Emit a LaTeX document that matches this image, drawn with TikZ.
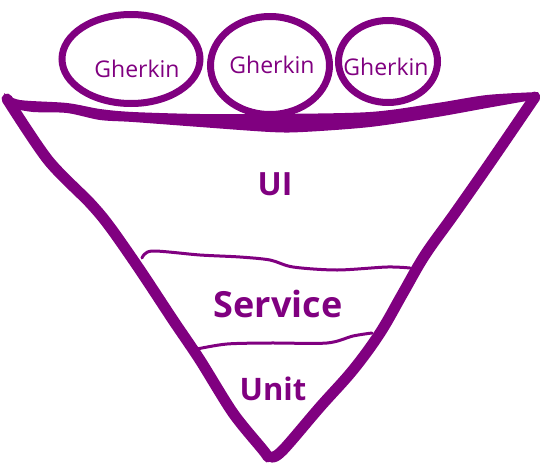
\documentclass[tikz,border=0pt]{standalone}
\usepackage{fontspec}
\setmainfont{Open Sans}
\usetikzlibrary{shapes.geometric}
\definecolor{gp}{HTML}{800080}
\tikzset{
  ell/.style={draw=gp, line width=7pt, ellipse, inner sep=0pt},
  gtext/.style={text=gp, font=\fontsize{23}{25}\selectfont, anchor=base, inner sep=0pt},
  layertext/.style={text=gp, anchor=base, inner sep=0pt},
  side/.style={draw=gp, line width=11pt, line cap=round, line join=round},
  divider/.style={draw=gp, line width=3pt, line cap=round}
}
\begin{document}
\begin{tikzpicture}[x=1pt,y=-1pt]
\useasboundingbox (0,0) rectangle (540,466);
% ellipses
\node[ell, minimum width=138pt, minimum height=89pt] (e1) at (131,59) {};
\node[ell, minimum width=119pt, minimum height=98pt] (e2) at (270,65.5) {};
\node[ell, minimum width=99pt, minimum height=82pt] (e3) at (388,61.5) {};
\node[gtext] (t1) at (137,77) {Gherkin};
\node[gtext] (t2) at (272,73) {Gherkin};
\node[gtext] (t3) at (386,75) {Gherkin};
% top edge
\fill[gp] plot[smooth, tension=0.5] coordinates {(4,93) (20,100) (67,103) (100,109) (133,112) (200,114) (270,114) (370,112) (437,103) (487,95) (538,92)}
  -- plot[smooth, tension=0.5] coordinates {(538,99) (487,108) (437,117) (370,127) (303,132) (270,132) (200,127) (133,122) (100,120) (67,113) (33,112) (10,108)} -- cycle;
% sides
\draw[side] plot[smooth, tension=0.5] coordinates {(7,99) (48,160) (90,203) (110,227) (140,270) (173,320) (200,360) (233,413) (263,450) (268,457)};
\draw[side] plot[smooth, tension=0.6] coordinates {(535,97) (492,160) (455,213) (425,255) (403,293) (380,333) (353,370) (320,407) (283,450) (272,457)};
% dividers
\draw[divider] plot[smooth, tension=0.5] coordinates {(142,258) (152,251) (200,255) (240,257) (270,260) (293,267) (337,270) (387,267) (410,268)};
\draw[divider] plot[smooth, tension=0.5] coordinates {(197,349) (227,344) (270,343) (327,343) (353,336) (372,333)};
% labels
\node[layertext, font=\bfseries\fontsize{32}{34}\selectfont] (ui) at (275,195) {UI};
\node[layertext, font=\bfseries\fontsize{36}{38}\selectfont] (svc) at (278,317) {Service};
\node[layertext, font=\bfseries\fontsize{31}{33}\selectfont] (unit) at (273,400) {Unit};
\end{tikzpicture}
\end{document}
